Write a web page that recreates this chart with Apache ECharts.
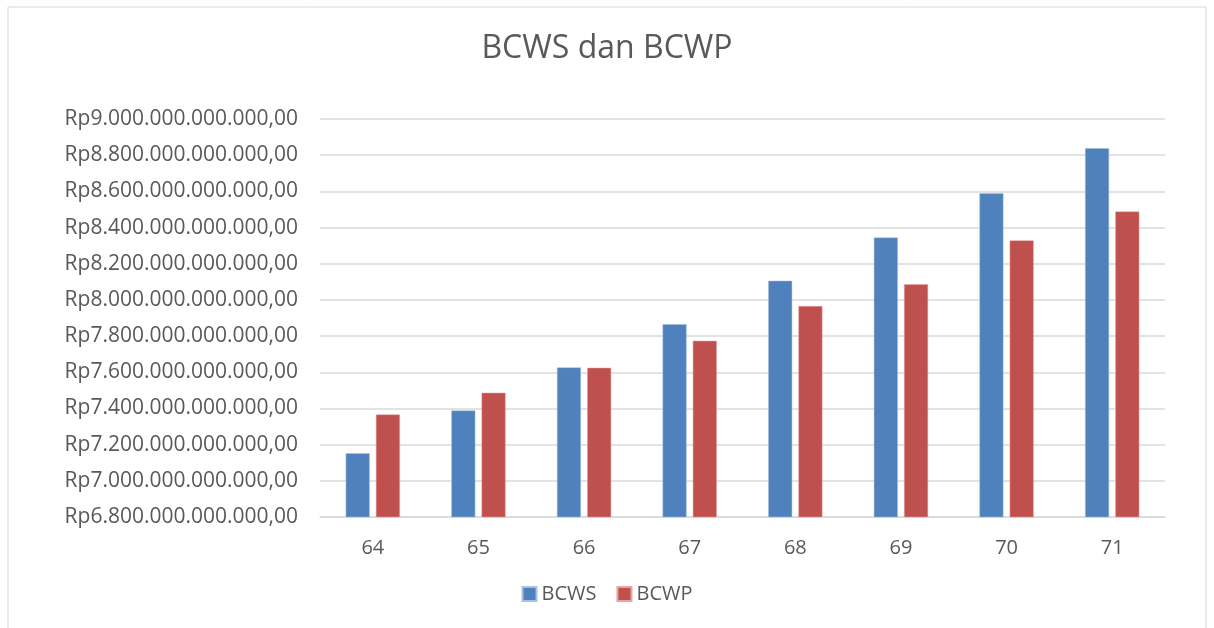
<!DOCTYPE html>
<html>
<head>
<meta charset="utf-8">
<script src="https://cdn.jsdelivr.net/npm/echarts@6/dist/echarts.min.js"></script>
<style>
  html, body { margin: 0; padding: 0; background: #fff; }
  #chart { width: 1214px; height: 628px; }
</style>
</head>
<body>
<div id="chart"></div>
<script>
// data (Rupiah)
const categories = ['64', '65', '66', '67', '68', '69', '70', '71'];
const bcws = [7152e9, 7389e9, 7627e9, 7866e9, 8106e9, 8345e9, 8590e9, 8839e9];
const bcwp = [7367e9, 7487e9, 7625e9, 7774e9, 7966e9, 8086e9, 8329e9, 8489e9];
const yMin = 6800e9, yMax = 9000e9, yStep = 200e9;

// Rp9.000.000.000.000,00
function formatRp (v) {
    let s = Math.round(v).toString().replace(/\B(?=(\d{3})+(?!\d))/g, '.');
    return 'Rp' + s + ',00';
}

const font = '"Open Sans", "Liberation Sans", sans-serif';
const textColor = '#595959';

let myChart = echarts.init(document.getElementById('chart'));
let option = {
    backgroundColor: '#ffffff',
    animation: false,
    title: {
        text: 'BCWS dan BCWP',
        left: 'center',
        top: 28,
        textStyle: { fontFamily: font, fontSize: 32, fontWeight: 'normal', color: textColor }
    },
    graphic: [{
        type: 'rect',
        shape: { x: 8, y: 7, width: 1198, height: 630 },
        style: { fill: 'none', stroke: '#d9d9d9', lineWidth: 1 },
        silent: true
    }],
    legend: {
        bottom: 19,
        left: 'center',
        itemWidth: 14,
        itemHeight: 14,
        itemGap: 20,
        icon: 'rect',
        textStyle: { fontFamily: font, fontSize: 20, color: textColor },
        data: ['BCWS', 'BCWP']
    },
    grid: {
        left: 320,
        right: 49,
        top: 119,
        bottom: 111,
        containLabel: false
    },
    xAxis: {
        type: 'category',
        data: categories,
        axisTick: { show: false },
        axisLine: { lineStyle: { color: '#d9d9d9', width: 1.5 } },
        axisLabel: { fontFamily: font, fontSize: 20, color: textColor, margin: 21 }
    },
    yAxis: {
        type: 'value',
        min: yMin,
        max: yMax,
        interval: yStep,
        axisLine: { show: false },
        axisTick: { show: false },
        splitLine: { lineStyle: { color: '#d9d9d9', width: 1.5 } },
        axisLabel: {
            fontFamily: font, fontSize: 21, color: textColor, margin: 22,
            formatter: formatRp
        }
    },
    series: [
        {
            name: 'BCWS',
            type: 'bar',
            data: bcws,
            barWidth: 24,
            barGap: '26%',
            itemStyle: { color: '#4f81bd', borderColor: '#a9c1e0', borderWidth: 0.5 }
        },
        {
            name: 'BCWP',
            type: 'bar',
            data: bcwp,
            barWidth: 24,
            itemStyle: { color: '#c0504d', borderColor: '#e2a6a4', borderWidth: 0.5 }
        }
    ]
};
myChart.setOption(option);
</script>
</body>
</html>
